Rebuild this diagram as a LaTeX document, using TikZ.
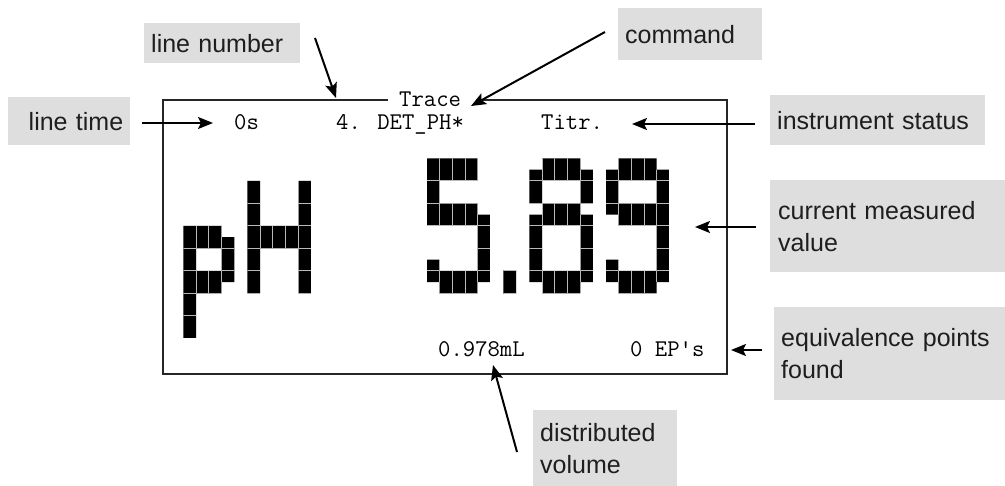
\documentclass[tikz,border=0pt]{standalone}
\usepackage{fontspec}
\setmainfont{Liberation Sans}
\usetikzlibrary{arrows.meta}
\definecolor{boxgray}{RGB}{222,222,222}
\definecolor{cellline}{RGB}{185,185,185}
\definecolor{labeltext}{RGB}{30,30,30}
\newcommand\lcdglyph[2]{%
  \begin{scope}[shift={(#1,158.3)}, x=12.75pt, y=-11.25pt]
    \clip #2;
    \fill[black] (0,0) rectangle (5,16);
    \foreach \i in {1,...,4} \draw[cellgrid] (\i,0) -- (\i,16);
    \foreach \j in {2,4,...,14} \draw[cellgrid] (0,\j) -- (5,\j);
  \end{scope}}
\begin{document}
\begin{tikzpicture}[x=1pt,y=-1pt,
  lbl/.style={fill=boxgray, text=labeltext, anchor=north west, inner xsep=7pt, inner ysep=0pt,
              align=left, font=\fontsize{25}{32}\selectfont},
  lcd/.style={inner sep=0pt, anchor=base west, font=\ttfamily\fontsize{24}{24}\selectfont},
  pointer/.style={line width=2pt, -{Stealth[length=15pt,width=12pt,inset=3pt]}},
  frameline/.style={line width=1.5pt, black!85},
  cellgrid/.style={cellline, line width=0.8pt}]

\useasboundingbox (0,0) rectangle (1005,486);

% label boxes
\node[lbl, minimum width=156pt, minimum height=40pt, text width=142pt] (lnum) at (144,23) {line number};
\node[lbl, minimum width=122pt, minimum height=48pt, text width=108pt, align=right] (ltime) at (8,97) {line time};
\node[lbl, minimum width=144pt, minimum height=52pt, text width=130pt] (cmd) at (618,8) {command};
\node[lbl, minimum width=215pt, minimum height=50pt, text width=201pt] (status) at (770,95) {instrument status};
\node[lbl, minimum width=235pt, minimum height=92pt, text width=219pt, inner xsep=8pt] (curr) at (770,180) {current measured\\value};
\node[lbl, minimum width=231pt, minimum height=93pt, text width=217pt] (equiv) at (774,307) {equivalence points\\found};
\node[lbl, minimum width=144pt, minimum height=76pt, text width=130pt] (dist) at (533,410) {distributed\\volume};

% display frame
\coordinate (fTL) at (163,100);
\coordinate (fTR) at (727,100);
\coordinate (fBL) at (163,374);
\coordinate (fBR) at (727,374);
\coordinate (gapL) at (388,100);
\coordinate (gapR) at (476,100);
\draw[frameline] (gapL) -- (fTL) -- (fBL) -- (fBR) -- (fTR) -- (gapR);

% display texts
\node[lcd] (trace) at (399,107) {Trace};
\node[lcd] (time) at (234,130) {0s};
\node[lcd] (command) at (336,130) {4. DET\_PH*};
\node[lcd] (titr) at (541,130) {Titr.};
\node[lcd] (vol) at (438,357) {0.978mL};
\node[lcd] (eps) at (630,357) {0 EP's};

% large LCD characters
\lcdglyph{183.3}{(0,6) rectangle (1,16) (1,6) rectangle (3,8) (1,10) rectangle (3,12) (3,7) rectangle (4,11)}
\lcdglyph{247.3}{(0,2) rectangle (1,12) (4,2) rectangle (5,12) (1,6) rectangle (4,8)}
\lcdglyph{426.7}{(0,0) rectangle (4,2) (0,2) rectangle (1,4) (0,4) rectangle (4,6) (4,5) rectangle (5,11) (0,9) rectangle (1,11) (1,10) rectangle (4,12)}
\lcdglyph{503.3}{(0,10) rectangle (1,12)}
\lcdglyph{529.3}{(1,0) rectangle (4,2) (0,1) rectangle (1,4) (4,1) rectangle (5,4) (1,4) rectangle (4,6) (0,5) rectangle (1,11) (4,5) rectangle (5,11) (1,10) rectangle (4,12)}
\lcdglyph{605.7}{(1,0) rectangle (4,2) (0,1) rectangle (1,5) (4,1) rectangle (5,11) (1,4) rectangle (4,6) (0,9) rectangle (1,11) (1,10) rectangle (4,12)}

% pointers
\coordinate (lnumS) at (315,38);   \coordinate (lnumE) at (336,98);
\coordinate (cmdS) at (605,32);    \coordinate (cmdE) at (471,106);
\coordinate (ltimeS) at (142,123); \coordinate (ltimeE) at (213,123);
\coordinate (statS) at (755,124);  \coordinate (statE) at (632,124);
\coordinate (currS) at (756,227);  \coordinate (currE) at (695,227);
\coordinate (equivS) at (762,350); \coordinate (equivE) at (731,350);
\coordinate (distS) at (517,452);  \coordinate (distE) at (493,365);
\draw[pointer] (lnumS) -- (lnumE);
\draw[pointer] (cmdS) -- (cmdE);
\draw[pointer] (ltimeS) -- (ltimeE);
\draw[pointer] (statS) -- (statE);
\draw[pointer] (currS) -- (currE);
\draw[pointer] (equivS) -- (equivE);
\draw[pointer] (distS) -- (distE);
\end{tikzpicture}
\end{document}
